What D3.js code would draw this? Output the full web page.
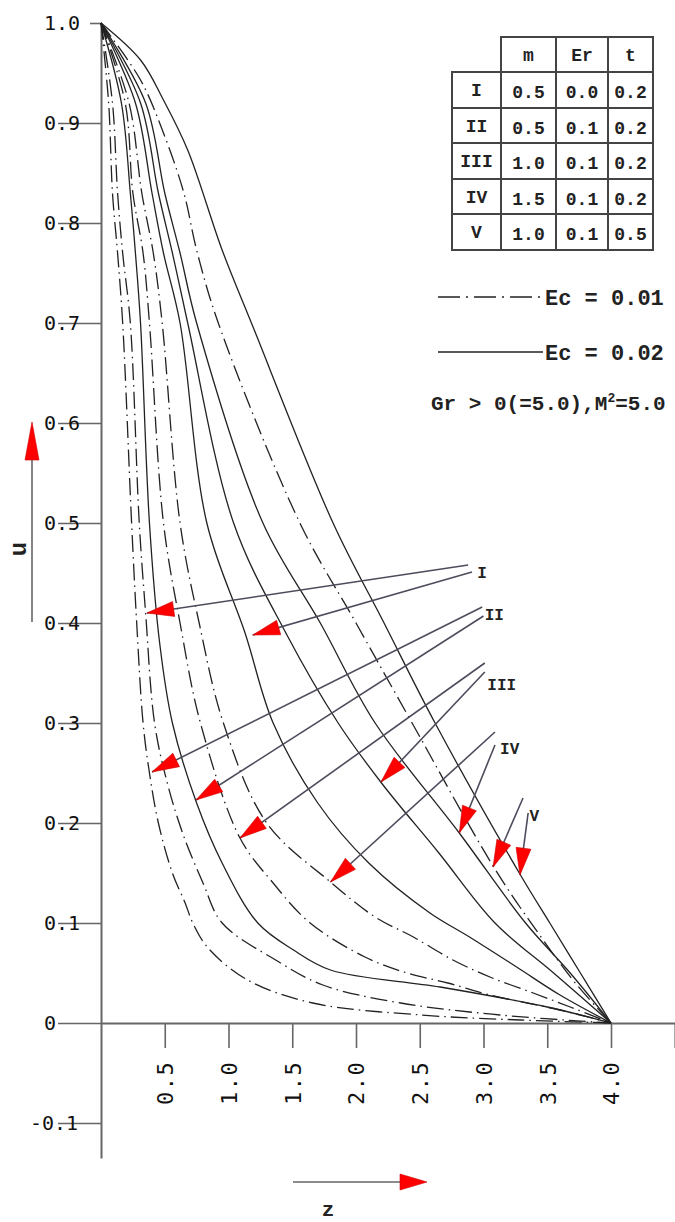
<!DOCTYPE html>
<html>
<head>
<meta charset="utf-8">
<script src="https://cdn.jsdelivr.net/npm/d3@7"></script>
<style>
body{margin:0;background:#fff;}
svg{display:block;}
</style>
</head>
<body>
<div id="chart"></div>
<script>
// velocity profiles u(z) as [z, u]
// Ec = 0.01 (dash-dot)
var caseI_ec1   = [[0,1],[0.09,0.92],[0.13,0.83],[0.17,0.77],[0.23,0.70],[0.30,0.50],[0.35,0.41],[0.42,0.30],[0.52,0.24],[0.64,0.19],[0.80,0.14],[0.95,0.10],[1.37,0.063],[1.74,0.038],[2.35,0.02],[3.13,0.008],[4,0]];
var caseII_ec1  = [[0,1],[0.06,0.92],[0.09,0.83],[0.13,0.77],[0.17,0.70],[0.24,0.50],[0.28,0.40],[0.33,0.30],[0.38,0.25],[0.45,0.20],[0.56,0.15],[0.66,0.12],[0.72,0.10],[0.84,0.075],[1.15,0.043],[1.66,0.02],[2.51,0.008],[3.29,0.003],[4,0]];
var caseIII_ec1 = [[0,1],[0.19,0.92],[0.25,0.83],[0.33,0.77],[0.38,0.70],[0.49,0.50],[0.62,0.40],[0.78,0.30],[1.09,0.185],[1.35,0.14],[1.64,0.10],[2.07,0.066],[2.40,0.05],[2.72,0.04],[3.05,0.028],[3.60,0.013],[4,0]];
var caseIV_ec1  = [[0,1],[0.22,0.92],[0.32,0.83],[0.41,0.77],[0.48,0.70],[0.62,0.50],[0.77,0.40],[0.96,0.30],[1.30,0.20],[1.80,0.141],[2.15,0.106],[2.45,0.086],[2.76,0.063],[3.05,0.046],[3.39,0.03],[3.68,0.016],[4,0]];
var caseV_ec1   = [[0,1],[0.31,0.943],[0.49,0.89],[0.65,0.83],[0.75,0.773],[0.92,0.70],[1.56,0.50],[2.0,0.40],[2.44,0.30],[3.08,0.156],[3.44,0.088],[3.72,0.04],[4,0]];
// Ec = 0.02 (solid)
var caseI_ec2   = [[0,1],[0.27,0.92],[0.40,0.83],[0.49,0.77],[0.62,0.70],[0.83,0.50],[1.13,0.39],[1.35,0.30],[1.70,0.22],[2.10,0.16],[2.58,0.11],[2.89,0.086],[3.26,0.056],[3.60,0.028],[4,0]];
var caseII_ec2  = [[0,1],[0.16,0.92],[0.23,0.83],[0.27,0.77],[0.31,0.70],[0.38,0.50],[0.46,0.38],[0.56,0.30],[0.75,0.22],[0.95,0.16],[1.23,0.10],[1.51,0.073],[1.80,0.053],[2.66,0.036],[3.50,0.016],[4,0]];
var caseIII_ec2 = [[0,1],[0.31,0.92],[0.45,0.83],[0.56,0.77],[0.68,0.70],[1.04,0.50],[1.45,0.39],[1.86,0.30],[2.20,0.24],[2.65,0.17],[3.09,0.10],[3.55,0.05],[4,0]];
var caseIV_ec2  = [[0,1],[0.35,0.92],[0.50,0.83],[0.62,0.77],[0.75,0.70],[1.27,0.50],[1.72,0.40],[2.15,0.30],[2.81,0.19],[3.33,0.10],[3.68,0.05],[4,0]];
var caseV_ec2   = [[0,1],[0.31,0.963],[0.49,0.923],[0.68,0.873],[0.95,0.773],[1.18,0.70],[1.82,0.50],[2.22,0.40],[2.62,0.30],[3.29,0.148],[3.52,0.10],[3.76,0.05],[4,0]];

var yTicks = [1.0,0.9,0.8,0.7,0.6,0.5,0.4,0.3,0.2,0.1,0,-0.1];
var xTicks = [0.5,1.0,1.5,2.0,2.5,3.0,3.5,4.0,4.5];

// parameter table
var caseNames = ["I","II","III","IV","V"];
var mVals  = ["0.5","0.5","1.0","1.5","1.0"];
var erVals = ["0.0","0.1","0.1","0.1","0.1"];
var tVals  = ["0.2","0.2","0.2","0.2","0.5"];
var tableHead = ["m","Er","t"];

// pointer arrows: label position, then two tips (Ec=0.01 curve, Ec=0.02 curve) as [z, u]
var labelPos  = [[2.95,0.451],[3.01,0.409],[3.03,0.339],[3.13,0.275],[3.36,0.208]];
var tailsA    = [[2.88,0.458],[2.99,0.416],[3.01,0.360],[3.09,0.291],[3.31,0.225]];
var tailsB    = [[2.91,0.451],[3.00,0.407],[3.01,0.351],[3.09,0.278],[3.35,0.210]];
var tipsEc1   = [[0.36,0.410],[0.40,0.251],[1.09,0.185],[1.80,0.141],[3.075,0.156]];
var tipsEc2   = [[1.19,0.388],[0.745,0.223],[2.196,0.241],[2.81,0.190],[3.286,0.148]];

var width = 675, height = 1222;
var mono = '"Liberation Mono","DejaVu Sans Mono",monospace';

var svg = d3.select('#chart').append('svg')
    .attr('width', width)
    .attr('height', height);

var x = d3.scaleLinear().domain([0, 4.5]).range([101, 674.75]);
var y = d3.scaleLinear().domain([-0.135, 1]).range([1158, 23]);

// y axis
var gy = svg.append('g')
    .attr('transform', 'translate(101,0)')
    .call(d3.axisLeft(y).tickValues(yTicks).tickSize(43).tickSizeOuter(0)
        .tickFormat(function (d) { return d === 0 ? '0' : d.toFixed(1); }));
gy.attr('font-family', '"DejaVu Sans Mono",monospace').attr('font-size', 20);
gy.select('.domain').attr('stroke', '#666').attr('stroke-width', 2);
gy.selectAll('.tick line').attr('stroke', '#666').attr('stroke-width', 1.6)
    .attr('x2', function (d) { return d === 1 ? -11 : -43; });
gy.selectAll('.tick text')
    .attr('text-anchor', 'start')
    .attr('fill', '#111')
    .attr('x', function (d) { return d < 0 ? -71 : -57; });

// x axis
var gx = svg.append('g')
    .attr('transform', 'translate(0,' + y(0) + ')')
    .call(d3.axisBottom(x).tickValues(xTicks).tickSize(25).tickSizeOuter(0)
        .tickFormat(function (d) { return d === 4.5 ? '' : d.toFixed(1); }));
gx.attr('font-family', '"DejaVu Sans Mono",monospace').attr('font-size', 22);
gx.select('.domain').attr('stroke', '#666').attr('stroke-width', 2);
gx.selectAll('.tick line').attr('stroke', '#666').attr('stroke-width', 1.6);
gx.selectAll('.tick text')
    .attr('y', 0).attr('x', 0).attr('dy', '0.36em')
    .attr('text-anchor', 'start')
    .attr('letter-spacing', 1.5)
    .attr('fill', '#111')
    .attr('transform', 'translate(0,82) rotate(-90)');

// curves
var series = [
    {pts: caseI_ec1, ec: 1}, {pts: caseII_ec1, ec: 1}, {pts: caseIII_ec1, ec: 1},
    {pts: caseIV_ec1, ec: 1}, {pts: caseV_ec1, ec: 1},
    {pts: caseI_ec2, ec: 2}, {pts: caseII_ec2, ec: 2}, {pts: caseIII_ec2, ec: 2},
    {pts: caseIV_ec2, ec: 2}, {pts: caseV_ec2, ec: 2}
];
var line = d3.line()
    .x(function (d) { return x(d[0]); })
    .y(function (d) { return y(d[1]); })
    .curve(d3.curveCatmullRom.alpha(0.5));

svg.append('g').selectAll('path').data(series)
    .enter().append('path')
    .attr('d', function (d) { return line(d.pts); })
    .attr('fill', 'none')
    .attr('stroke', '#222')
    .attr('stroke-width', 1.3)
    .attr('stroke-dasharray', function (d) { return d.ec === 1 ? '17,5,1.5,5' : null; });

// red arrowhead as triangle pointing at (x2,y2)
function head(x1, y1, x2, y2, len, w) {
    var dx = x2 - x1, dy = y2 - y1, L = Math.hypot(dx, dy);
    var ux = dx / L, uy = dy / L;
    var bx = x2 - ux * len, by = y2 - uy * len;
    return [[x2, y2], [bx - uy * w, by + ux * w], [bx + uy * w, by - ux * w]];
}

var arrows = [];
caseNames.forEach(function (n, i) {
    arrows.push({a: tailsA[i], b: tipsEc1[i]});
    arrows.push({a: tailsB[i], b: tipsEc2[i]});
});
var ga = svg.append('g');
ga.selectAll('line').data(arrows).enter().append('line')
    .attr('x1', function (d) { return x(d.a[0]); })
    .attr('y1', function (d) { return y(d.a[1]); })
    .attr('x2', function (d) { return x(d.b[0]); })
    .attr('y2', function (d) { return y(d.b[1]); })
    .attr('stroke', '#4c4c5c')
    .attr('stroke-width', 1.6);
ga.selectAll('polygon').data(arrows).enter().append('polygon')
    .attr('points', function (d) {
        return head(x(d.a[0]), y(d.a[1]), x(d.b[0]), y(d.b[1]), 27, 7.5).join(' ');
    })
    .attr('fill', '#f00')
    .attr('stroke', '#c00')
    .attr('stroke-width', 0.6);
ga.selectAll('text').data(caseNames).enter().append('text')
    .attr('x', function (d, i) { return x(labelPos[i][0]); })
    .attr('y', function (d, i) { return y(labelPos[i][1]); })
    .attr('dy', '0.35em')
    .attr('font-family', mono)
    .attr('font-weight', 'bold')
    .attr('font-size', 16)
    .attr('fill', '#222')
    .text(function (d) { return d; });

// axis titles with red arrows
svg.append('line').attr('x1', 32).attr('y1', 622).attr('x2', 32).attr('y2', 445)
    .attr('stroke', '#666').attr('stroke-width', 1.6);
svg.append('polygon').attr('points', head(32, 622, 32, 422, 38, 7).join(' '))
    .attr('fill', '#f00').attr('stroke', '#c00').attr('stroke-width', 0.6);
svg.append('text').attr('transform', 'translate(18,549) rotate(-90)')
    .attr('text-anchor', 'middle').attr('dy', '0.35em')
    .attr('font-family', mono).attr('font-weight', 'bold').attr('font-size', 24)
    .attr('fill', '#222').text('u');

svg.append('line').attr('x1', 293).attr('y1', 1182).attr('x2', 405).attr('y2', 1182)
    .attr('stroke', '#666').attr('stroke-width', 1.6);
svg.append('polygon').attr('points', head(293, 1182, 427, 1182, 27, 8).join(' '))
    .attr('fill', '#f00').attr('stroke', '#c00').attr('stroke-width', 0.6);
svg.append('text').attr('x', 328).attr('y', 1209)
    .attr('text-anchor', 'middle').attr('dy', '0.35em')
    .attr('font-family', mono).attr('font-weight', 'bold').attr('font-size', 21)
    .attr('fill', '#222').text('z');

// table
var colX = [452, 501, 556, 608, 653];
var rowY = [37, 72, 108, 143, 179, 214, 250];
var gt = svg.append('g').attr('stroke', '#444').attr('stroke-width', 2);
gt.append('rect').attr('x', colX[1]).attr('y', rowY[0])
    .attr('width', colX[4] - colX[1]).attr('height', rowY[6] - rowY[0]).attr('fill', 'none');
gt.append('rect').attr('x', colX[0]).attr('y', rowY[1])
    .attr('width', colX[4] - colX[0]).attr('height', rowY[6] - rowY[1]).attr('fill', 'none');
[2, 3].forEach(function (c) {
    gt.append('line').attr('x1', colX[c]).attr('x2', colX[c]).attr('y1', rowY[0]).attr('y2', rowY[6]);
});
gt.append('line').attr('x1', colX[1]).attr('x2', colX[1]).attr('y1', rowY[1]).attr('y2', rowY[6]);
[2, 3, 4, 5].forEach(function (r) {
    gt.append('line').attr('x1', colX[0]).attr('x2', colX[4]).attr('y1', rowY[r]).attr('y2', rowY[r]);
});

var cellText = svg.append('g')
    .attr('font-family', mono).attr('font-weight', 'bold').attr('font-size', 18)
    .attr('fill', '#222').attr('text-anchor', 'middle');
tableHead.forEach(function (h, j) {
    cellText.append('text').attr('x', (colX[j + 1] + colX[j + 2]) / 2)
        .attr('y', (rowY[0] + rowY[1]) / 2).attr('dy', '0.35em').text(h);
});
caseNames.forEach(function (n, i) {
    var cy = (rowY[i + 1] + rowY[i + 2]) / 2;
    [n, mVals[i], erVals[i], tVals[i]].forEach(function (v, j) {
        cellText.append('text').attr('x', (colX[j] + colX[j + 1]) / 2)
            .attr('y', cy).attr('dy', j === 0 ? '0.35em' : '0.45em').text(v);
    });
});

// legend
var legend = [{y: 297, dash: '22,6,2,6', label: 'Ec = 0.01'}, {y: 352, dash: null, label: 'Ec = 0.02'}];
var gl = svg.append('g');
legend.forEach(function (l) {
    gl.append('line').attr('x1', 438).attr('x2', 543).attr('y1', l.y).attr('y2', l.y)
        .attr('stroke', '#222').attr('stroke-width', 1.4)
        .attr('stroke-dasharray', l.dash);
    gl.append('text').attr('x', 545).attr('y', l.y).attr('dy', '0.35em')
        .attr('font-family', mono).attr('font-weight', 'bold').attr('font-size', 22)
        .attr('fill', '#222').text(l.label);
});
var gr = gl.append('text').attr('x', 431).attr('y', 403).attr('dy', '0.35em')
    .attr('font-family', mono).attr('font-weight', 'bold').attr('font-size', 21)
    .attr('fill', '#222');
gr.append('tspan').text('Gr > 0(=5.0),M');
gr.append('tspan').attr('font-size', 13).attr('dy', -8).text('2');
gr.append('tspan').attr('dy', 8).text('=5.0');
</script>
</body>
</html>
